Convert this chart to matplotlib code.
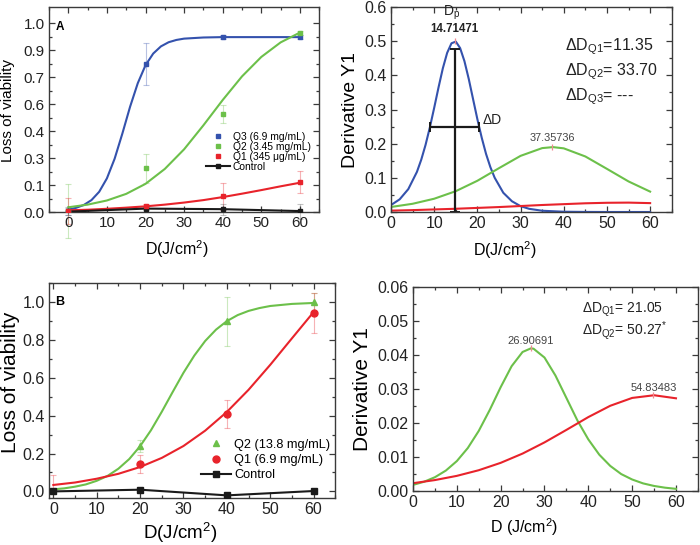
import matplotlib
matplotlib.use('Agg')
import matplotlib.pyplot as plt
from matplotlib.ticker import FixedLocator, MultipleLocator, FixedFormatter, FormatStrFormatter

plt.rcParams['font.family'] = ['Liberation Sans', 'DejaVu Sans']
plt.rcParams['mathtext.fontset'] = 'custom'
plt.rcParams['mathtext.rm'] = 'Liberation Sans'
plt.rcParams['mathtext.it'] = 'Liberation Sans:italic'
plt.rcParams['mathtext.bf'] = 'Liberation Sans:bold'

BLUE = '#3452ad'
GREEN = '#6cc04a'
RED = '#e8232b'
BLACK = '#1a1a1a'
PINK = '#f08a90'

# ---------------- Panel A data ----------------
dose_pts = [0, 20, 40, 60]
a_q3_pts = [0.005, 0.782, 0.926, 0.926]
a_q3_err = [0.02, 0.112, 0.01, 0.01]
a_q2_pts = [0.005, 0.232, 0.518, 0.949]
a_q2_err = [0.145, 0.077, 0.048, 0.01]
a_q1_pts = [0.005, 0.033, 0.083, 0.158]
a_q1_err = [0.07, 0.012, 0.07, 0.06]
a_ctrl_pts = [0.002, 0.018, 0.015, 0.005]
a_ctrl_err = [0.02, 0.01, 0.03, 0.04]

a_q3_fit_d = [0, 2, 4, 6, 8, 10, 12, 14, 16, 18, 20, 22, 24, 26, 28, 30, 35, 40, 45, 50, 55, 60]
a_q3_fit = [0.012, 0.022, 0.037, 0.063, 0.107, 0.178, 0.282, 0.415, 0.557, 0.682, 0.777,
            0.839, 0.877, 0.899, 0.911, 0.918, 0.924, 0.926, 0.926, 0.926, 0.926, 0.926]
a_fit_d = [0, 5, 10, 15, 20, 25, 30, 35, 40, 45, 50, 55, 60]
a_q2_fit = [0.025, 0.039, 0.061, 0.096, 0.149, 0.228, 0.332, 0.459, 0.593, 0.718, 0.821, 0.898, 0.950]
a_q1_fit = [0.009, 0.012, 0.017, 0.023, 0.030, 0.039, 0.050, 0.063, 0.079, 0.097, 0.116, 0.136, 0.155]

a_yticks = [0 / 7, 1 / 7, 2 / 7, 3 / 7, 4 / 7, 5 / 7, 6 / 7, 7 / 7]
a_yticklabels = ['0.0', '0.1', '0.3', '0.4', '0.6', '0.7', '0.9', '1.0']
a_labels = ['Q3 (6.9 mg/mL)', 'Q2 (3.45 mg/mL)', 'Q1 (345 μg/mL)', 'Control']

# ---------------- Panel A derivative data ----------------
ad_q3_d = [0, 2, 4, 6, 7, 8, 9, 10, 11, 12, 13, 14, 15, 16, 17, 18, 19, 20, 21, 22, 23, 24,
           26, 28, 30, 32, 35, 40, 45, 50, 55, 60]
ad_q3 = [0.0204, 0.0371, 0.0670, 0.1175, 0.1532, 0.1967, 0.2481, 0.3053, 0.3647, 0.4208,
         0.4660, 0.4940, 0.4990, 0.4800, 0.4417, 0.3896, 0.3305, 0.2716, 0.2177, 0.1703,
         0.1316, 0.1004, 0.0563, 0.0315, 0.0171, 0.0093, 0.0037, 0.0008, 0.0002, 0.0, 0.0, 0.0]
ad_q2_d = [0, 5, 10, 15, 20, 25, 30, 35, 37.5, 40, 45, 50, 55, 60]
ad_q2 = [0.0147, 0.0241, 0.0389, 0.0610, 0.0915, 0.1284, 0.1644, 0.1871, 0.1900, 0.1864,
         0.1626, 0.1263, 0.0895, 0.0597]
ad_q1_d = [0, 5, 10, 15, 20, 25, 30, 35, 40, 45, 50, 55, 60]
ad_q1 = [0.004, 0.0055, 0.0075, 0.0095, 0.012, 0.0145, 0.0175, 0.0205, 0.023, 0.0255,
         0.027, 0.0275, 0.026]
ad_dp_q3 = 14.71471
ad_peak_q3 = 0.5
ad_dp_q2 = 37.35736
ad_peak_q2 = 0.19
ad_delta_q3 = 11.35
ad_texts = ['ΔD$_{\\mathrm{Q1}}$=11.35', 'ΔD$_{\\mathrm{Q2}}$= 33.70', 'ΔD$_{\\mathrm{Q3}}$= ---']

# ---------------- Panel B data ----------------
b_q2_pts = [0.0, 0.24, 0.90, 1.0]
b_q2_err = [0.0, 0.03, 0.13, 0.05]
b_q1_pts = [0.01, 0.147, 0.408, 0.942]
b_q1_err = [0.075, 0.048, 0.075, 0.107]
b_ctrl_pts = [0.0, 0.009, -0.021, 0.002]
b_ctrl_err = [0.005, 0.006, 0.01, 0.01]

b_q2_fit_d = [0, 2.5, 5, 7.5, 10, 12.5, 15, 17.5, 20, 22.5, 25, 27.5, 30, 32.5, 35, 37.5,
              40, 42.5, 45, 47.5, 50, 55, 60]
b_q2_fit = [0.011, 0.016, 0.025, 0.037, 0.056, 0.082, 0.120, 0.171, 0.239, 0.323, 0.421,
            0.525, 0.627, 0.718, 0.795, 0.855, 0.900, 0.932, 0.954, 0.969, 0.980, 0.991, 0.996]
b_q1_fit_d = [0, 5, 10, 15, 20, 25, 30, 35, 40, 45, 50, 55, 60]
b_q1_fit = [0.034, 0.047, 0.067, 0.093, 0.129, 0.177, 0.240, 0.321, 0.420, 0.537, 0.669,
            0.809, 0.948]
b_labels = ['Q2 (13.8 mg/mL)', 'Q1 (6.9 mg/mL)', 'Control']

# ---------------- Panel B derivative data ----------------
bd_q2_d = [0, 2.5, 5, 7.5, 10, 12.5, 15, 17.5, 20, 22.5, 25, 26.9, 27.5, 30, 32.5, 35, 37.5,
           40, 42.5, 45, 47.5, 50, 52.5, 55, 57.5, 60]
bd_q2 = [0.00181, 0.00272, 0.00407, 0.00603, 0.00882, 0.01266, 0.01770, 0.02385, 0.03057,
         0.03675, 0.04094, 0.0420, 0.0419, 0.0393, 0.0340, 0.0274, 0.0208, 0.0152, 0.0107,
         0.0074, 0.0050, 0.0034, 0.00225, 0.0015, 0.00099, 0.00065]
bd_q1_d = [0, 5, 10, 15, 20, 25, 30, 35, 40, 45, 50, 55, 60]
bd_q1 = [0.00231, 0.00323, 0.00447, 0.00613, 0.00830, 0.01103, 0.01432, 0.01800, 0.02177,
         0.02510, 0.02741, 0.0282, 0.0273]
bd_dp_q2 = 26.90691
bd_peak_q2 = 0.0420
bd_dp_q1 = 54.83483
bd_peak_q1 = 0.0282
bd_texts = ['ΔD$_{\\mathrm{Q1}}$= 21.05', 'ΔD$_{\\mathrm{Q2}}$= 50.27$^{*}$']

xlabel_txt = 'D(J/cm$^{\\mathrm{2}}$)'


def style(ax, tsize):
    for s in ax.spines.values():
        s.set_linewidth(1.0)
        s.set_color('#3a3a3a')
    ax.tick_params(which='both', direction='in', top=True, right=True, width=0.9,
                   color='#3a3a3a', labelcolor='#222222', labelsize=tsize)
    ax.tick_params(which='major', length=4.5, pad=3)
    ax.tick_params(which='minor', length=2.5)


def errbars(ax, x, y, e, color, alpha=0.35, clip=False):
    c = ax.errorbar(x, y, yerr=e, fmt='none', ecolor=color, alpha=alpha,
                    elinewidth=0.8, capsize=2.2, capthick=0.8, zorder=1)
    for art in c.lines[1] + c.lines[2]:
        art.set_clip_on(clip)


fig = plt.figure(figsize=(7, 5.45), dpi=100)
axA = fig.add_axes([0.070, 0.611, 0.386, 0.376])
axAd = fig.add_axes([0.5586, 0.611, 0.401, 0.376])
axB = fig.add_axes([0.070, 0.0862, 0.409, 0.394])
axBd = fig.add_axes([0.590, 0.099, 0.407, 0.374])

# ---------- Panel A ----------
ax = axA
style(ax, 11)
errbars(ax, dose_pts, a_q3_pts, a_q3_err, BLUE)
errbars(ax, dose_pts, a_q2_pts, a_q2_err, GREEN)
errbars(ax, dose_pts, a_q1_pts, a_q1_err, RED)
errbars(ax, dose_pts, a_ctrl_pts, a_ctrl_err, '#555555')
ax.plot(a_q3_fit_d, a_q3_fit, color=BLUE, lw=1.5, zorder=3)
ax.plot(a_fit_d, a_q2_fit, color=GREEN, lw=1.5, zorder=3)
ax.plot(a_fit_d, a_q1_fit, color=RED, lw=1.5, zorder=3)
ax.plot(dose_pts, a_ctrl_pts, color=BLACK, lw=1.5, marker='s', ms=3.5, zorder=4,
        label=a_labels[3])
ax.plot(dose_pts, a_q3_pts, ls='none', marker='s', ms=3.2, color=BLUE, zorder=5, label=a_labels[0])
ax.plot(dose_pts, a_q2_pts, ls='none', marker='s', ms=3.2, color=GREEN, zorder=5, label=a_labels[1])
ax.plot(dose_pts, a_q1_pts, ls='none', marker='s', ms=3.2, color=RED, zorder=5, label=a_labels[2])
ax.set_xlim(-5, 65)
ax.set_ylim(0, 1.085)
ax.xaxis.set_major_locator(MultipleLocator(10))
ax.xaxis.set_minor_locator(MultipleLocator(5))
ax.yaxis.set_major_locator(FixedLocator(a_yticks))
ax.yaxis.set_major_formatter(FixedFormatter(a_yticklabels))
ax.yaxis.set_minor_locator(FixedLocator([(k + 0.5) / 7 for k in range(7)]))
ax.set_xlabel(xlabel_txt, fontsize=11.5)
ax.set_ylabel('Loss of viability', fontsize=11)
ax.xaxis.set_label_coords(0.473, -0.13)
ax.yaxis.set_label_coords(-0.126, 0.494)
ax.text(-3.3, 0.98, 'A', fontsize=8.5, fontweight='bold', ha='left', va='center')
h, l = ax.get_legend_handles_labels()
order = [1, 2, 3, 0]
ax.legend([h[i] for i in order], [l[i] for i in order], loc='upper left',
          bbox_to_anchor=(0.58, 0.39), frameon=False, fontsize=7.4, borderaxespad=0,
          borderpad=0, handlelength=2.4, handletextpad=0.25, labelspacing=0.0)

# ---------- Panel A derivative ----------
ax = axAd
style(ax, 11.5)
ax.plot(ad_q3_d, ad_q3, color=BLUE, lw=1.5)
ax.plot(ad_q2_d, ad_q2, color=GREEN, lw=1.5)
ax.plot(ad_q1_d, ad_q1, color=RED, lw=1.5)
ax.errorbar(ad_dp_q3, ad_peak_q3 * 0.478, yerr=ad_peak_q3 * 0.478, fmt='none', ecolor=BLACK,
            elinewidth=1.6, capsize=3.5, capthick=1.4)
ax.errorbar(ad_dp_q3, ad_peak_q3 / 2, xerr=ad_delta_q3 / 2, fmt='none', ecolor=BLACK,
            elinewidth=1.6, capsize=3.5, capthick=1.4)
ax.plot([ad_dp_q3, ad_dp_q2], [ad_peak_q3, ad_peak_q2], ls='none', marker='|', ms=5,
        color=PINK, mew=0.9)
ax.text(ad_dp_q3 + ad_delta_q3 / 2 + 0.9, ad_peak_q3 / 2 + 0.02, 'ΔD', fontsize=10,
        ha='left', va='center', color='#222222')
ax.text(ad_dp_q3 - 0.6, 0.582, 'D$_{\\mathrm{p}}$', fontsize=10, ha='center', va='center',
        color='#222222')
ax.text(ad_dp_q3, 0.536, '14.71471', fontsize=8.3, fontweight='bold', ha='center',
        va='center', color='#222222')
ax.text(ad_dp_q2, ad_peak_q2 + 0.027, '37.35736', fontsize=7.8, ha='center', va='center',
        color='#444444')
for i, t in enumerate(ad_texts):
    ax.text(40.2, 0.485 - 0.073 * i, t, fontsize=11.5, ha='left', va='center', color='#222222')
ax.set_xlim(0, 65)
ax.set_ylim(0, 0.6)
ax.xaxis.set_major_locator(MultipleLocator(10))
ax.xaxis.set_minor_locator(MultipleLocator(5))
ax.yaxis.set_major_locator(MultipleLocator(0.1))
ax.yaxis.set_minor_locator(MultipleLocator(0.05))
ax.set_xlabel(xlabel_txt, fontsize=11.5)
ax.set_ylabel('Derivative Y1', fontsize=14)
ax.xaxis.set_label_coords(0.405, -0.135)
ax.yaxis.set_label_coords(-0.115, 0.5)

# ---------- Panel B ----------
ax = axB
style(ax, 11.5)
errbars(ax, dose_pts, b_q2_pts, b_q2_err, GREEN, clip=True)
errbars(ax, dose_pts, b_q1_pts, b_q1_err, RED, clip=True)
errbars(ax, dose_pts, b_ctrl_pts, b_ctrl_err, '#555555', clip=True)
ax.plot(b_q2_fit_d, b_q2_fit, color=GREEN, lw=1.5, zorder=3)
ax.plot(b_q1_fit_d, b_q1_fit, color=RED, lw=1.5, zorder=3)
ax.plot(dose_pts, b_ctrl_pts, color=BLACK, lw=1.5, marker='s', ms=4, zorder=4, label=b_labels[2])
ax.plot(dose_pts[1:], b_q2_pts[1:], ls='none', marker='^', ms=5, color=GREEN, zorder=5,
        label=b_labels[0])
ax.plot(dose_pts[1:], b_q1_pts[1:], ls='none', marker='o', ms=5, color=RED, zorder=5,
        label=b_labels[1])
ax.set_xlim(-1, 65)
ax.set_ylim(-0.035, 1.1)
ax.xaxis.set_major_locator(MultipleLocator(10))
ax.xaxis.set_minor_locator(MultipleLocator(5))
ax.yaxis.set_major_locator(MultipleLocator(0.2))
ax.yaxis.set_minor_locator(MultipleLocator(0.1))
ax.set_xlabel(xlabel_txt, fontsize=13.5)
ax.set_ylabel('Loss of viability', fontsize=15)
ax.xaxis.set_label_coords(0.46, -0.105)
ax.yaxis.set_label_coords(-0.101, 0.54)
ax.text(0.3, 1.0, 'B', fontsize=9, fontweight='bold', ha='left', va='center')
h, l = ax.get_legend_handles_labels()
order = [1, 2, 0]
ax.legend([h[i] for i in order], [l[i] for i in order], loc='upper left',
          bbox_to_anchor=(0.53, 0.275), frameon=False, fontsize=9.2, borderaxespad=0,
          borderpad=0, handlelength=2.4, handletextpad=0.2, labelspacing=0.25)

# ---------- Panel B derivative ----------
ax = axBd
style(ax, 11.5)
ax.plot(bd_q2_d, bd_q2, color=GREEN, lw=1.5)
ax.plot(bd_q1_d, bd_q1, color=RED, lw=1.5)
ax.plot([bd_dp_q2, bd_dp_q1], [bd_peak_q2, bd_peak_q1], ls='none', marker='|', ms=5,
        color=PINK, mew=0.9)
ax.text(bd_dp_q2, bd_peak_q2 + 0.0022, '26.90691', fontsize=8, ha='center', va='center',
        color='#444444')
ax.text(bd_dp_q1, bd_peak_q1 + 0.0022, '54.83483', fontsize=8, ha='center', va='center',
        color='#444444')
for i, t in enumerate(bd_texts):
    ax.text(38.5, 0.0532 - 0.0059 * i, t, fontsize=10, ha='left', va='center', color='#222222')
ax.set_xlim(0, 65)
ax.set_ylim(0, 0.06)
ax.xaxis.set_major_locator(MultipleLocator(10))
ax.xaxis.set_minor_locator(MultipleLocator(5))
ax.yaxis.set_major_locator(MultipleLocator(0.01))
ax.yaxis.set_minor_locator(MultipleLocator(0.005))
ax.yaxis.set_major_formatter(FormatStrFormatter('%.2f'))
ax.set_xlabel('D (J/cm$^{\\mathrm{2}}$)', fontsize=11.5)
ax.set_ylabel('Derivative Y1', fontsize=15)
ax.xaxis.set_label_coords(0.39, -0.125)
ax.yaxis.set_label_coords(-0.145, 0.5)

fig.savefig('out.png', dpi=100)
